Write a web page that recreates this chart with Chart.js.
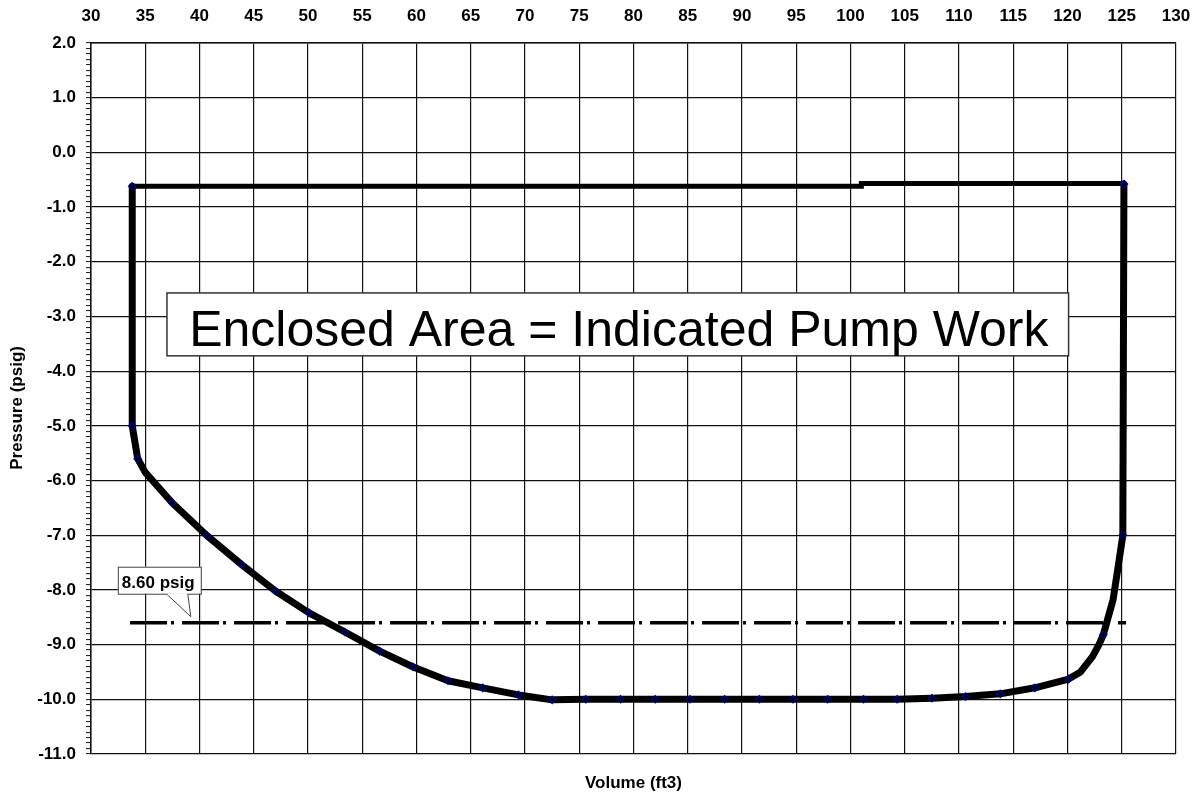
<!DOCTYPE html>
<html>
<head>
<meta charset="utf-8">
<script src="https://cdn.jsdelivr.net/npm/chart.js@4/dist/chart.umd.min.js"></script>
<style>
html,body{margin:0;padding:0;background:#fff;}
#wrap{width:1195px;height:794px;position:relative;}
</style>
</head>
<body>
<div id="wrap"><canvas id="c"></canvas></div>
<script>
// ---- tick labels ----
const volumeTicks = [30,35,40,45,50,55,60,65,70,75,80,85,90,95,100,105,110,115,120,125,130];
const pressureTicks = [2,1,0,-1,-2,-3,-4,-5,-6,-7,-8,-9,-10,-11];

// ---- P-V cycle path (volume ft3, pressure psig) ----
const loopVolume   = [125.2, 125.1, 124.65, 124.2, 123.3, 122.9, 122.3, 121.2, 120.1, 117.0, 113.8, 110.6, 107.5, 104.3, 101.2, 97.9, 94.7, 91.6, 88.4, 85.2, 82.0, 78.8, 75.6, 72.5, 69.4, 66.1, 62.9, 59.7, 56.6, 53.4, 50.1, 47.0, 43.9, 40.7, 37.5, 35.0, 34.3, 33.8, 33.8];
const loopPressure = [-0.58, -7.0, -7.6, -8.18, -8.82, -9.0, -9.22, -9.5, -9.63, -9.79, -9.9, -9.95, -9.98, -10.0, -10.0, -10.0, -10.0, -10.0, -10.0, -10.0, -10.0, -10.0, -10.0, -10.01, -9.92, -9.79, -9.66, -9.41, -9.12, -8.77, -8.42, -8.02, -7.54, -7.01, -6.41, -5.85, -5.6, -5.0, -0.62];

// ---- suction line (top) ----
const topVolume   = [33.8, 101.0, 101.0, 125.2];
const topPressure = [-0.62, -0.62, -0.57, -0.57];

// ---- measured data markers ----
const markerVolume   = [33.8, 33.8, 34.3, 37.5, 40.7, 43.9, 47.0, 50.1, 53.4, 56.6, 59.7, 62.9, 66.1, 69.4, 72.5, 75.6, 78.8, 82.0, 85.2, 88.4, 91.6, 94.7, 97.9, 101.2, 104.3, 107.5, 110.6, 113.8, 117.0, 120.1, 123.3, 125.1, 125.2];
const markerPressure = [-0.62, -5.0, -5.6, -6.41, -7.01, -7.54, -8.02, -8.42, -8.77, -9.12, -9.41, -9.66, -9.79, -9.92, -10.01, -10.0, -10.0, -10.0, -10.0, -10.0, -10.0, -10.0, -10.0, -10.0, -10.0, -9.98, -9.95, -9.9, -9.79, -9.63, -8.82, -7.0, -0.58];

// ---- reference pressure line ----
const refVolume   = [33.6, 125.4];
const refPressure = [-8.6, -8.6];

// ---- annotations ----
const areaText = 'Enclosed Area = Indicated Pump Work';
const areaBox = {volLeft: 37.0, volRight: 120.1, presTop: -2.57, presBottom: -3.72};
const calloutText = '8.60 psig';
const calloutTip = {vol: 39.2, pres: -8.49};

const zip = (xs, ys) => xs.map((v, i) => ({x: v, y: ys[i]}));
const isMajor = v => Math.abs(v - Math.round(v)) < 1e-6 && pressureTicks.includes(Math.round(v));
const FONT = "'Liberation Sans', Arial, sans-serif";
Chart.defaults.font.family = FONT;

const overlay = {
  id: 'overlay',
  afterDatasetsDraw(chart) {
    const {ctx, scales: {x, y}} = chart;
    ctx.save();
    // big annotation box
    const L = x.getPixelForValue(areaBox.volLeft), R = x.getPixelForValue(areaBox.volRight);
    const T = y.getPixelForValue(areaBox.presTop), B = y.getPixelForValue(areaBox.presBottom);
    ctx.fillStyle = '#fff';
    ctx.fillRect(L, T, R - L, B - T);
    ctx.lineWidth = 1.5;
    ctx.strokeStyle = '#333';
    ctx.strokeRect(L, T, R - L, B - T);
    ctx.fillStyle = '#000';
    ctx.font = '50px ' + FONT;
    ctx.textAlign = 'center';
    ctx.textBaseline = 'alphabetic';
    ctx.fillText(areaText, (L + R) / 2 + 1, T + 53);

    // callout
    const tx = x.getPixelForValue(calloutTip.vol), ty = y.getPixelForValue(calloutTip.pres);
    const bl = tx - 73, br = tx + 10, bt = ty - 50, bb = ty - 23;
    ctx.lineWidth = 1;
    ctx.strokeStyle = '#444';
    ctx.fillStyle = '#fff';
    ctx.fillRect(bl, bt, br - bl, bb - bt);
    ctx.strokeRect(bl + 0.5, bt + 0.5, br - bl, bb - bt);
    ctx.beginPath();
    ctx.moveTo(tx - 24, bb + 0.5);
    ctx.lineTo(tx, ty);
    ctx.lineTo(tx - 3, bb + 0.5);
    ctx.closePath();
    ctx.fill();
    ctx.beginPath();
    ctx.moveTo(tx - 24, bb + 0.5);
    ctx.lineTo(tx, ty);
    ctx.lineTo(tx - 3, bb + 0.5);
    ctx.stroke();
    ctx.fillStyle = '#fff';
    ctx.fillRect(tx - 23, bb - 0.5, 19, 2);
    ctx.fillStyle = '#000';
    ctx.font = 'bold 17px ' + FONT;
    ctx.textAlign = 'left';
    ctx.fillText(calloutText, bl + 4, bb - 6);
    ctx.restore();
  }
};

new Chart(document.getElementById('c'), {
  type: 'scatter',
  data: {
    datasets: [
      {
        label: 'markers',
        data: zip(markerVolume, markerPressure),
        showLine: false,
        pointStyle: 'rectRot',
        pointRadius: 3.5,
        pointBorderWidth: 1.5,
        pointBorderColor: '#000080',
        pointBackgroundColor: 'rgba(0,0,0,0)',
        order: 0
      },
      {
        label: 'loop',
        data: zip(loopVolume, loopPressure),
        showLine: true,
        borderColor: '#000',
        borderWidth: 7,
        borderJoinStyle: 'round',
        borderCapStyle: 'round',
        pointRadius: 0,
        order: 1
      },
      {
        label: 'top',
        data: zip(topVolume, topPressure),
        showLine: true,
        borderColor: '#000',
        borderWidth: 5,
        pointRadius: 0,
        order: 2
      },
      {
        label: 'ref',
        data: zip(refVolume, refPressure),
        showLine: true,
        borderColor: '#000',
        borderWidth: 3.5,
        borderDash: [37, 4, 3, 8],
        pointRadius: 0,
        order: 3
      }
    ]
  },
  options: {
    responsive: true,
    maintainAspectRatio: false,
    animation: false,
    devicePixelRatio: 1,
    layout: {padding: {left: 0, right: 19, top: 0, bottom: 0}},
    plugins: {legend: {display: false}, tooltip: {enabled: false}},
    scales: {
      x: {
        type: 'linear',
        position: 'top',
        min: 30,
        max: 130,
        afterBuildTicks: s => { s.ticks = volumeTicks.map(v => ({value: v})); },
        afterFit: s => { s.height = 43; s.paddingLeft = 0; s.paddingRight = 0; },
        ticks: {autoSkip: false, maxRotation: 0, padding: 16, color: '#000', font: {size: 17, weight: 'bold'}},
        grid: {color: '#111', lineWidth: 1.2, drawTicks: false},
        border: {display: true, color: '#111', width: 1.5}
      },
      x2: {
        type: 'linear',
        position: 'bottom',
        min: 30,
        max: 130,
        afterFit: s => { s.height = 40; s.paddingLeft = 0; s.paddingRight = 0; },
        ticks: {display: false},
        grid: {display: false},
        border: {display: false},
        title: {display: true, text: 'Volume (ft3)', color: '#000', font: {size: 17, weight: 'bold'}, padding: {top: 0, bottom: 0}}
      },
      y: {
        type: 'linear',
        position: 'left',
        min: -11,
        max: 2,
        afterBuildTicks: s => {
          const t = [];
          for (let i = -110; i <= 20; i++) t.push({value: i / 10});
          s.ticks = t;
        },
        afterFit: s => { s.width = 91; s.paddingTop = 0; s.paddingBottom = 0; },
        ticks: {
          autoSkip: false,
          padding: 10,
          color: '#000',
          font: {size: 17, weight: 'bold'},
          callback: v => isMajor(v) ? (Math.round(v) === 0 ? '0.0' : v.toFixed(1)) : ''
        },
        grid: {
          color: c => (c.tick && !isMajor(c.tick.value)) ? 'rgba(0,0,0,0)' : '#111',
          lineWidth: 1.2,
          drawTicks: true,
          tickLength: 5,
          tickColor: '#111',
          tickWidth: 1
        },
        border: {display: true, color: '#111', width: 1.5},
        title: {display: true, text: 'Pressure (psig)    ', color: '#000', font: {size: 17, weight: 'bold'}, padding: {top: 7, bottom: 0}}
      }
    }
  },
  plugins: [overlay]
});
</script>
</body>
</html>
